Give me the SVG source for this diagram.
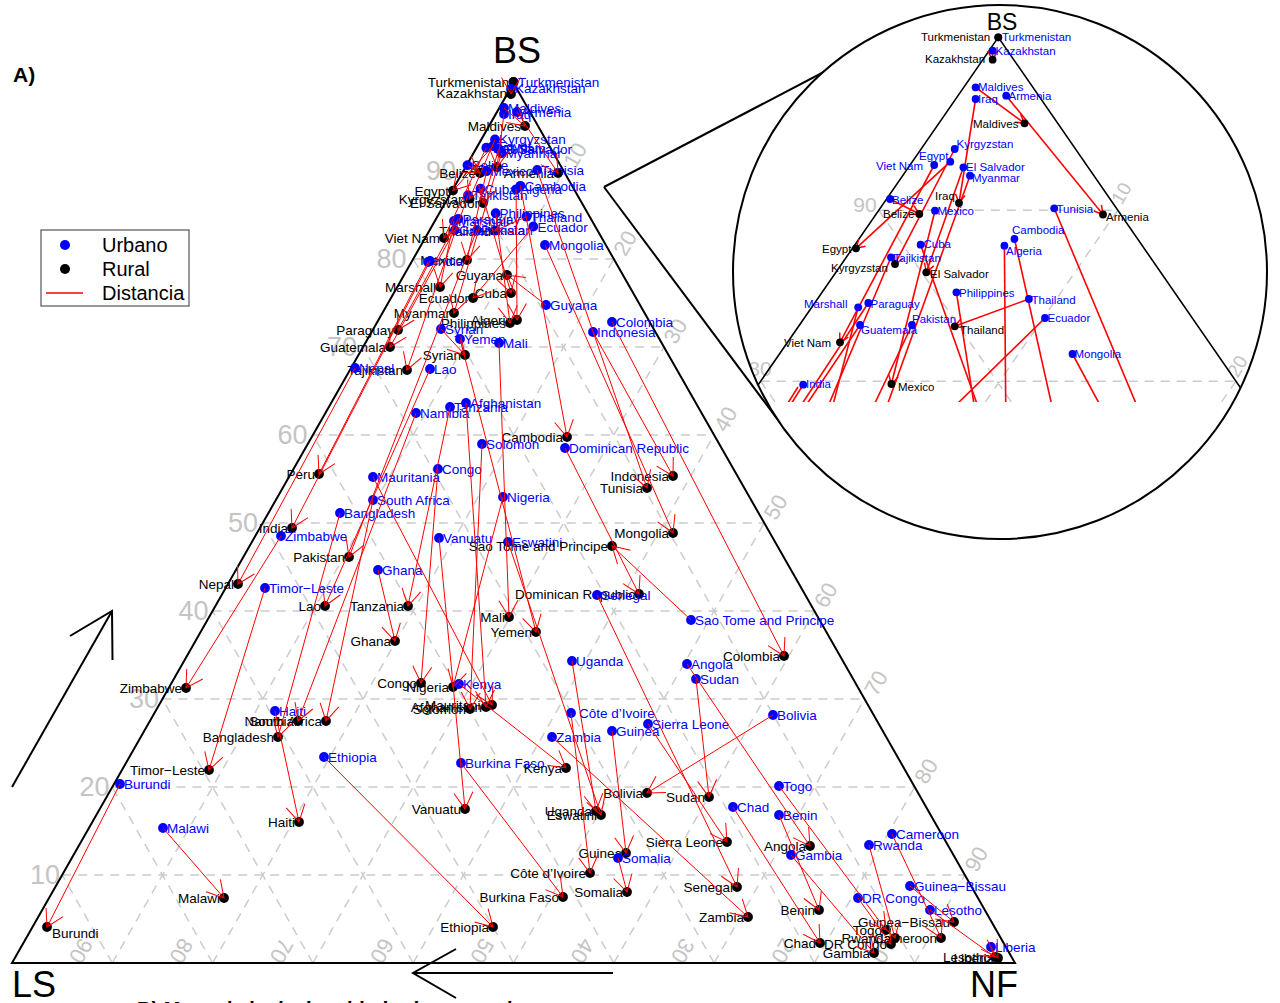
<svg xmlns="http://www.w3.org/2000/svg" width="1280" height="1003" viewBox="0 0 1280 1003">
<style>
.u{fill:#0000ff}.r{fill:#000}
.lu{font-family:"Liberation Sans",Arial,sans-serif;font-size:13.5px;fill:#0000ff}
.lr{font-family:"Liberation Sans",Arial,sans-serif;font-size:13.5px;fill:#000;text-anchor:end}
.iu{font-family:"Liberation Sans",Arial,sans-serif;font-size:11.5px;fill:#0000ff}
.ir{font-family:"Liberation Sans",Arial,sans-serif;font-size:11.5px;fill:#000}
.a{stroke:#ff0000;stroke-width:1;fill:none;marker-end:url(#ah)}
.ai{stroke:#ff0000;stroke-width:1.6;fill:none;marker-end:url(#ahs)}
.g{stroke:#cccccc;stroke-width:1.5;stroke-dasharray:9 7;fill:none}
.gl{font-family:"Liberation Sans",Arial,sans-serif;font-size:27px;fill:#c4c4c4;text-anchor:middle}
.gr{font-family:"Liberation Sans",Arial,sans-serif;font-size:22px;fill:#c4c4c4;text-anchor:middle}
.gi{font-family:"Liberation Sans",Arial,sans-serif;font-size:21px;fill:#c4c4c4;text-anchor:middle}
.edge{stroke:#000;stroke-width:2;fill:none}
.ax{font-family:"Liberation Sans",Arial,sans-serif;font-size:36px;fill:#000}
.lg{font-family:"Liberation Sans",Arial,sans-serif;font-size:20px;fill:#000}
#nodes circle{r:4.9px}
#inset-urban circle,#inset-rural circle{r:3.9px}
</style>
<defs>
<marker id="ah" markerUnits="userSpaceOnUse" markerWidth="40" markerHeight="40" refX="0" refY="0" orient="auto" overflow="visible"><path d="M-16.5,-9.5L0,0L-16.5,9.5" fill="none" stroke="#ff0000" stroke-width="1"/></marker>
<marker id="ahs" markerUnits="userSpaceOnUse" markerWidth="20" markerHeight="20" refX="0" refY="0" orient="auto" overflow="visible"><path d="M-8.5,-4.9L0,0L-8.5,4.9" fill="none" stroke="#ff0000" stroke-width="1.5"/></marker>
<clipPath id="cc"><circle cx="1000" cy="272" r="267"/></clipPath>
<clipPath id="cr"><rect x="700" y="0" width="580" height="402"/></clipPath>
</defs>
<rect width="1280" height="1003" fill="#fff"/>

<g id="grid">
<path class="g" d="M62.15,875H964.85M112.3,787H914.7M162.45,699H864.55M212.6,611H814.4M262.75,523H764.25M312.9,435H714.1M363.05,347H663.95M413.2,259H613.8M463.35,171H563.65"/>
<path class="g" d="M112.3,963L563.65,171M212.6,963L613.8,259M312.9,963L663.95,347M413.2,963L714.1,435M513.5,963L764.25,523M613.8,963L814.4,611M714.1,963L864.55,699M814.4,963L914.7,787M914.7,963L964.85,875"/>
<path class="g" d="M914.7,963L463.35,171M814.4,963L413.2,259M714.1,963L363.05,347M613.8,963L312.9,435M513.5,963L262.75,523M413.2,963L212.6,611M312.9,963L162.45,699M212.6,963L112.3,787M112.3,963L62.15,875"/>
<text class="gl" x="45" y="883.5">10</text><text class="gl" x="94.5" y="795.5">20</text><text class="gl" x="144" y="707.5">30</text><text class="gl" x="193.5" y="619.5">40</text><text class="gl" x="243" y="531.5">50</text><text class="gl" x="292.5" y="443.5">60</text><text class="gl" x="342" y="355.5">70</text><text class="gl" x="391.5" y="267.5">80</text><text class="gl" x="441" y="179.5">90</text>
<text class="gr" transform="translate(574.7,155) rotate(-60)" y="8">10</text><text class="gr" transform="translate(624.8,243) rotate(-60)" y="8">20</text><text class="gr" transform="translate(675,331) rotate(-60)" y="8">30</text><text class="gr" transform="translate(725.1,419) rotate(-60)" y="8">40</text><text class="gr" transform="translate(775.3,507) rotate(-60)" y="8">50</text><text class="gr" transform="translate(825.4,595) rotate(-60)" y="8">60</text><text class="gr" transform="translate(875.6,683) rotate(-60)" y="8">70</text><text class="gr" transform="translate(925.7,771) rotate(-60)" y="8">80</text><text class="gr" transform="translate(975.9,859) rotate(-60)" y="8">90</text>
<text class="gr" transform="translate(81.3,951) rotate(120)" y="8">90</text><text class="gr" transform="translate(181.6,951) rotate(120)" y="8">80</text><text class="gr" transform="translate(281.9,951) rotate(120)" y="8">70</text><text class="gr" transform="translate(382.2,951) rotate(120)" y="8">60</text><text class="gr" transform="translate(482.5,951) rotate(120)" y="8">50</text><text class="gr" transform="translate(582.8,951) rotate(120)" y="8">40</text><text class="gr" transform="translate(683.1,951) rotate(120)" y="8">30</text><text class="gr" transform="translate(783.4,951) rotate(120)" y="8">20</text><text class="gr" transform="translate(883.7,951) rotate(120)" y="8">10</text>
</g>

<g id="frame">
<polygon class="edge" points="12,963 1015,963 513.5,83"/>
<text class="ax" x="517" y="63" text-anchor="middle">BS</text>
<text class="ax" x="12" y="997">LS</text>
<text class="ax" x="970" y="997">NF</text>
<polyline class="edge" points="12,787 112,611"/><polyline class="edge" points="70,636 112,611 112.5,660"/>
<polyline class="edge" points="613,973 413,973"/><polyline class="edge" points="456,949 413,973 456,998"/>
<text x="13" y="82" font-family="Liberation Sans,Arial,sans-serif" font-size="21" font-weight="bold">A)</text>
<text x="137" y="1016" font-family="Liberation Sans,Arial,sans-serif" font-size="20" font-weight="bold">B) Mapa de la desigualdad urbano-rural</text>
</g>

<g id="legend">
<rect x="41" y="230" width="148" height="76" fill="#fff" stroke="#333" stroke-width="1"/>
<circle cx="65" cy="245" r="5" class="u"/><text class="lg" x="102" y="252">Urbano</text>
<circle cx="65" cy="269" r="5" class="r"/><text class="lg" x="102" y="276">Rural</text>
<line x1="46" y1="293" x2="83" y2="293" stroke="#ff0000" stroke-width="1.5"/><text class="lg" x="102" y="300">Distancia</text>
</g>

<g id="nodes">
<g id="turkmenistan"><circle class="u" cx="513.5" cy="82" r="4.9"/><text class="lu" x="518" y="86.5">Turkmenistan</text><circle class="r" cx="513.5" cy="82" r="4.9"/><text class="lr" x="509" y="86.5">Turkmenistan</text></g>
<g id="kazakhstan"><circle class="u" cx="511" cy="89" r="4.9"/><text class="lu" x="515" y="93">Kazakhstan</text><circle class="r" cx="511" cy="94" r="4.9"/><text class="lr" x="507" y="98">Kazakhstan</text></g>
<g id="maldives"><circle class="u" cx="504" cy="108" r="4.9"/><text class="lu" x="508" y="112.5">Maldives</text><circle class="r" cx="525" cy="126" r="4.9"/><text class="lr" x="521" y="131">Maldives</text></g>
<g id="iraq"><circle class="u" cx="504" cy="114" r="4.9"/><text class="lu" x="508" y="118.5">Iraq</text><circle class="r" cx="497" cy="167" r="4.9"/><text class="lr" x="493" y="172">Iraq</text></g>
<g id="armenia"><circle class="u" cx="517" cy="112" r="4.9"/><text class="lu" x="521" y="116.5">Armenia</text><circle class="r" cx="558" cy="173" r="4.9"/><text class="lr" x="554" y="178">Armenia</text></g>
<g id="kyrgyzstan"><circle class="u" cx="495" cy="139.5" r="4.9"/><text class="lu" x="499" y="144">Kyrgyzstan</text><circle class="r" cx="469.6" cy="198.7" r="4.9"/><text class="lr" x="465.5" y="203.5">Kyrgyzstan</text></g>
<g id="egypt"><circle class="u" cx="493" cy="146" r="4.9"/><text class="lu" x="497" y="151">Egypt</text><circle class="r" cx="453" cy="190.6" r="4.9"/><text class="lr" x="449" y="195.5">Egypt</text></g>
<g id="vietnam"><circle class="u" cx="486.3" cy="147.7" r="4.9"/><text class="lu" x="490.5" y="152.5">Viet Nam</text><circle class="r" cx="444" cy="238" r="4.9"/><text class="lr" x="440" y="243">Viet Nam</text></g>
<g id="elsalvador"><circle class="u" cx="498.7" cy="149" r="4.9"/><text class="lu" x="503" y="154">El Salvador</text><circle class="r" cx="483" cy="203" r="4.9"/><text class="lr" x="479" y="208">El Salvador</text></g>
<g id="myanmar"><circle class="u" cx="501.5" cy="153.2" r="4.9"/><text class="lu" x="505.5" y="158">Myanmar</text><circle class="r" cx="454" cy="313" r="4.9"/><text class="lr" x="450" y="318">Myanmar</text></g>
<g id="belize"><circle class="u" cx="467.5" cy="165.2" r="4.9"/><text class="lu" x="471.5" y="170">Belize</text><circle class="r" cx="480" cy="173" r="4.9"/><text class="lr" x="476" y="178">Belize</text></g>
<g id="mexico"><circle class="u" cx="486.6" cy="171.2" r="4.9"/><text class="lu" x="490.5" y="176">Mexico</text><circle class="r" cx="467" cy="260" r="4.9"/><text class="lr" x="463" y="265">Mexico</text></g>
<g id="tunisia"><circle class="u" cx="537.2" cy="170" r="4.9"/><text class="lu" x="541" y="175">Tunisia</text><circle class="r" cx="647" cy="488" r="4.9"/><text class="lr" x="643" y="493">Tunisia</text></g>
<g id="cambodia"><circle class="u" cx="520.4" cy="185.8" r="4.9"/><text class="lu" x="524.5" y="190.5">Cambodia</text><circle class="r" cx="567" cy="437" r="4.9"/><text class="lr" x="563" y="442">Cambodia</text></g>
<g id="algeria"><circle class="u" cx="516.1" cy="189.3" r="4.9"/><text class="lu" x="520" y="194">Algeria</text><circle class="r" cx="517" cy="320" r="4.9"/><text class="lr" x="513" y="325">Algeria</text></g>
<g id="cuba"><circle class="u" cx="480.5" cy="188.7" r="4.9"/><text class="lu" x="484.5" y="193.5">Cuba</text><circle class="r" cx="511" cy="293" r="4.9"/><text class="lr" x="507" y="298">Cuba</text></g>
<g id="tajikistan"><circle class="u" cx="468" cy="195.2" r="4.9"/><text class="lu" x="472" y="200">Tajikistan</text><circle class="r" cx="407" cy="370" r="4.9"/><text class="lr" x="403" y="375">Tajikistan</text></g>
<g id="philippines"><circle class="u" cx="495.7" cy="213.2" r="4.9"/><text class="lu" x="499.5" y="218">Philippines</text><circle class="r" cx="510" cy="323" r="4.9"/><text class="lr" x="506" y="328">Philippines</text></g>
<g id="thailand"><circle class="u" cx="526.5" cy="216.7" r="4.9"/><text class="lu" x="530.5" y="221.5">Thailand</text><circle class="r" cx="495" cy="230.7" r="4.9"/><text class="lr" x="491" y="235.5">Thailand</text></g>
<g id="marshall"><circle class="u" cx="454" cy="221" r="4.9"/><text class="lu" x="458" y="226">Marshall</text><circle class="r" cx="440" cy="287" r="4.9"/><text class="lr" x="436" y="292">Marshall</text></g>
<g id="paraguay"><circle class="u" cx="458.3" cy="218.8" r="4.9"/><text class="lu" x="462.5" y="223.5">Paraguay</text><circle class="r" cx="398" cy="330" r="4.9"/><text class="lr" x="394" y="335">Paraguay</text></g>
<g id="ecuador"><circle class="u" cx="533.3" cy="226.5" r="4.9"/><text class="lu" x="537.5" y="231.5">Ecuador</text><circle class="r" cx="473" cy="298" r="4.9"/><text class="lr" x="469" y="303">Ecuador</text></g>
<g id="guatemala"><circle class="u" cx="454.8" cy="230.1" r="4.9"/><text class="lu" x="459" y="235">Guatemala</text><circle class="r" cx="390" cy="347" r="4.9"/><text class="lr" x="386" y="352">Guatemala</text></g>
<g id="pakistan"><circle class="u" cx="476.9" cy="230.1" r="4.9"/><text class="lu" x="481" y="235">Pakistan</text><circle class="r" cx="349" cy="557" r="4.9"/><text class="lr" x="345" y="562">Pakistan</text></g>
<g id="mongolia"><circle class="u" cx="545" cy="245" r="4.9"/><text class="lu" x="549" y="250">Mongolia</text><circle class="r" cx="673" cy="533" r="4.9"/><text class="lr" x="669" y="538">Mongolia</text></g>
<g id="india"><circle class="u" cx="430" cy="261" r="4.9"/><text class="lu" x="434" y="266">India</text><circle class="r" cx="292" cy="528" r="4.9"/><text class="lr" x="288" y="533">India</text></g>
<g id="peru"><circle class="u" cx="428" cy="262" r="4.9"/><circle class="r" cx="319" cy="474" r="4.9"/><text class="lr" x="315" y="479">Peru</text></g>
<g id="guyana"><circle class="u" cx="546" cy="305" r="4.9"/><text class="lu" x="550" y="310">Guyana</text><circle class="r" cx="507" cy="275" r="4.9"/><text class="lr" x="503" y="280">Guyana</text></g>
<g id="colombia"><circle class="u" cx="612" cy="322" r="4.9"/><text class="lu" x="616" y="327">Colombia</text><circle class="r" cx="784" cy="656" r="4.9"/><text class="lr" x="780" y="661">Colombia</text></g>
<g id="indonesia"><circle class="u" cx="593" cy="332" r="4.9"/><text class="lu" x="597" y="337">Indonesia</text><circle class="r" cx="673" cy="476" r="4.9"/><text class="lr" x="669" y="481">Indonesia</text></g>
<g id="syrian"><circle class="u" cx="441" cy="329" r="4.9"/><text class="lu" x="445" y="334">Syrian</text><circle class="r" cx="465" cy="355" r="4.9"/><text class="lr" x="461" y="360">Syrian</text></g>
<g id="yemen"><circle class="u" cx="460" cy="339" r="4.9"/><text class="lu" x="464" y="344">Yemen</text><circle class="r" cx="536" cy="632" r="4.9"/><text class="lr" x="532" y="637">Yemen</text></g>
<g id="mali"><circle class="u" cx="499" cy="343" r="4.9"/><text class="lu" x="503" y="348">Mali</text><circle class="r" cx="509" cy="617" r="4.9"/><text class="lr" x="505" y="622">Mali</text></g>
<g id="nepal"><circle class="u" cx="355" cy="368" r="4.9"/><text class="lu" x="359" y="373">Nepal</text><circle class="r" cx="238" cy="584" r="4.9"/><text class="lr" x="234" y="589">Nepal</text></g>
<g id="lao"><circle class="u" cx="430" cy="369" r="4.9"/><text class="lu" x="434" y="374">Lao</text><circle class="r" cx="325" cy="606" r="4.9"/><text class="lr" x="321" y="611">Lao</text></g>
<g id="afghanistan"><circle class="u" cx="466" cy="403" r="4.9"/><text class="lu" x="470" y="408">Afghanistan</text><circle class="r" cx="486" cy="707" r="4.9"/><text class="lr" x="482" y="712">Afghanistan</text></g>
<g id="tanzania"><circle class="u" cx="450" cy="407" r="4.9"/><text class="lu" x="454" y="412">Tanzania</text><circle class="r" cx="408" cy="606" r="4.9"/><text class="lr" x="404" y="611">Tanzania</text></g>
<g id="namibia"><circle class="u" cx="416" cy="413" r="4.9"/><text class="lu" x="420" y="418">Namibia</text><circle class="r" cx="298" cy="721" r="4.9"/><text class="lr" x="294" y="726">Namibia</text></g>
<g id="solomon"><circle class="u" cx="482" cy="444" r="4.9"/><text class="lu" x="486" y="449">Solomon</text><circle class="r" cx="470" cy="709" r="4.9"/><text class="lr" x="466" y="714">Solomon</text></g>
<g id="congo"><circle class="u" cx="438" cy="469" r="4.9"/><text class="lu" x="442" y="474">Congo</text><circle class="r" cx="421" cy="683" r="4.9"/><text class="lr" x="417" y="688">Congo</text></g>
<g id="mauritania"><circle class="u" cx="373" cy="477" r="4.9"/><text class="lu" x="377" y="482">Mauritania</text><circle class="r" cx="492" cy="705" r="4.9"/><text class="lr" x="488" y="710">Mauritania</text></g>
<g id="southafrica"><circle class="u" cx="373" cy="500" r="4.9"/><text class="lu" x="377" y="505">South Africa</text><circle class="r" cx="326" cy="721" r="4.9"/><text class="lr" x="322" y="726">South Africa</text></g>
<g id="nigeria"><circle class="u" cx="503" cy="497" r="4.9"/><text class="lu" x="507" y="502">Nigeria</text><circle class="r" cx="453" cy="687" r="4.9"/><text class="lr" x="449" y="692">Nigeria</text></g>
<g id="bangladesh"><circle class="u" cx="340" cy="513" r="4.9"/><text class="lu" x="344" y="518">Bangladesh</text><circle class="r" cx="278" cy="737" r="4.9"/><text class="lr" x="274" y="742">Bangladesh</text></g>
<g id="zimbabwe"><circle class="u" cx="281" cy="536" r="4.9"/><text class="lu" x="285" y="541">Zimbabwe</text><circle class="r" cx="186" cy="688" r="4.9"/><text class="lr" x="182" y="693">Zimbabwe</text></g>
<g id="vanuatu"><circle class="u" cx="439" cy="538" r="4.9"/><text class="lu" x="443" y="543">Vanuatu</text><circle class="r" cx="465" cy="809" r="4.9"/><text class="lr" x="461" y="814">Vanuatu</text></g>
<g id="eswatini"><circle class="u" cx="508" cy="542" r="4.9"/><text class="lu" x="512" y="547">Eswatini</text><circle class="r" cx="601" cy="815" r="4.9"/><text class="lr" x="597" y="820">Eswatini</text></g>
<g id="ghana"><circle class="u" cx="378" cy="570" r="4.9"/><text class="lu" x="382" y="575">Ghana</text><circle class="r" cx="395" cy="641" r="4.9"/><text class="lr" x="391" y="646">Ghana</text></g>
<g id="timorleste"><circle class="u" cx="265" cy="588" r="4.9"/><text class="lu" x="269" y="593">Timor−Leste</text><circle class="r" cx="209" cy="770" r="4.9"/><text class="lr" x="205" y="775">Timor−Leste</text></g>
<g id="dominican"><circle class="u" cx="565" cy="448" r="4.9"/><text class="lu" x="569" y="453">Dominican Republic</text><circle class="r" cx="639" cy="594" r="4.9"/><text class="lr" x="635" y="599">Dominican Republic</text></g>
<g id="saotome"><circle class="u" cx="691" cy="620" r="4.9"/><text class="lu" x="695" y="625">Sao Tome and Principe</text><circle class="r" cx="612" cy="546" r="4.9"/><text class="lr" x="608" y="551">Sao Tome and Principe</text></g>
<g id="senegal"><circle class="u" cx="597" cy="595" r="4.9"/><text class="lu" x="601" y="600">Senegal</text><circle class="r" cx="737" cy="887" r="4.9"/><text class="lr" x="733" y="892">Senegal</text></g>
<g id="uganda"><circle class="u" cx="572" cy="661" r="4.9"/><text class="lu" x="576" y="666">Uganda</text><circle class="r" cx="596" cy="811" r="4.9"/><text class="lr" x="592" y="816">Uganda</text></g>
<g id="angola"><circle class="u" cx="687" cy="664" r="4.9"/><text class="lu" x="691" y="669">Angola</text><circle class="r" cx="810" cy="846" r="4.9"/><text class="lr" x="806" y="851">Angola</text></g>
<g id="sudan"><circle class="u" cx="696" cy="679" r="4.9"/><text class="lu" x="700" y="684">Sudan</text><circle class="r" cx="709" cy="797" r="4.9"/><text class="lr" x="705" y="802">Sudan</text></g>
<g id="kenya"><circle class="u" cx="459" cy="684" r="4.9"/><text class="lu" x="463" y="689">Kenya</text><circle class="r" cx="566" cy="768" r="4.9"/><text class="lr" x="562" y="773">Kenya</text></g>
<g id="haiti"><circle class="u" cx="275" cy="711" r="4.9"/><text class="lu" x="279" y="716">Haiti</text><circle class="r" cx="299" cy="822" r="4.9"/><text class="lr" x="295" y="827">Haiti</text></g>
<g id="cotedivoire"><circle class="u" cx="571" cy="713" r="4.9"/><text class="lu" x="579" y="718">Côte d’Ivoire</text><circle class="r" cx="590" cy="873" r="4.9"/><text class="lr" x="586" y="878">Côte d’Ivoire</text></g>
<g id="guinea"><circle class="u" cx="612" cy="731" r="4.9"/><text class="lu" x="616" y="736">Guinea</text><circle class="r" cx="626" cy="853" r="4.9"/><text class="lr" x="622" y="858">Guinea</text></g>
<g id="sierraleone"><circle class="u" cx="648" cy="724" r="4.9"/><text class="lu" x="652" y="729">Sierra Leone</text><circle class="r" cx="727" cy="842" r="4.9"/><text class="lr" x="723" y="847">Sierra Leone</text></g>
<g id="bolivia"><circle class="u" cx="773" cy="715" r="4.9"/><text class="lu" x="777" y="720">Bolivia</text><circle class="r" cx="647" cy="793" r="4.9"/><text class="lr" x="643" y="798">Bolivia</text></g>
<g id="zambia"><circle class="u" cx="552" cy="737" r="4.9"/><text class="lu" x="556" y="742">Zambia</text><circle class="r" cx="748" cy="917" r="4.9"/><text class="lr" x="744" y="922">Zambia</text></g>
<g id="ethiopia"><circle class="u" cx="324" cy="757" r="4.9"/><text class="lu" x="328" y="762">Ethiopia</text><circle class="r" cx="493" cy="927" r="4.9"/><text class="lr" x="489" y="932">Ethiopia</text></g>
<g id="burkinafaso"><circle class="u" cx="461" cy="763" r="4.9"/><text class="lu" x="465" y="768">Burkina Faso</text><circle class="r" cx="563" cy="897" r="4.9"/><text class="lr" x="559" y="902">Burkina Faso</text></g>
<g id="burundi"><circle class="u" cx="120" cy="784" r="4.9"/><text class="lu" x="124" y="789">Burundi</text><circle class="r" cx="47" cy="927" r="4.9"/><text class="lr" x="52" y="937.5" style="text-anchor:start">Burundi</text></g>
<g id="malawi"><circle class="u" cx="163" cy="828" r="4.9"/><text class="lu" x="167" y="833">Malawi</text><circle class="r" cx="224" cy="898" r="4.9"/><text class="lr" x="220" y="903">Malawi</text></g>
<g id="togo"><circle class="u" cx="779" cy="786" r="4.9"/><text class="lu" x="783" y="791">Togo</text><circle class="r" cx="886" cy="930" r="4.9"/><text class="lr" x="882" y="935">Togo</text></g>
<g id="chad"><circle class="u" cx="733" cy="807" r="4.9"/><text class="lu" x="737" y="812">Chad</text><circle class="r" cx="820" cy="943" r="4.9"/><text class="lr" x="816" y="948">Chad</text></g>
<g id="benin"><circle class="u" cx="779" cy="815" r="4.9"/><text class="lu" x="783" y="820">Benin</text><circle class="r" cx="819" cy="910" r="4.9"/><text class="lr" x="815" y="915">Benin</text></g>
<g id="gambia"><circle class="u" cx="791" cy="855" r="4.9"/><text class="lu" x="795" y="860">Gambia</text><circle class="r" cx="874" cy="953" r="4.9"/><text class="lr" x="870" y="958">Gambia</text></g>
<g id="somalia"><circle class="u" cx="618" cy="858" r="4.9"/><text class="lu" x="622" y="863">Somalia</text><circle class="r" cx="627" cy="892" r="4.9"/><text class="lr" x="623" y="897">Somalia</text></g>
<g id="cameroon"><circle class="u" cx="892" cy="834" r="4.9"/><text class="lu" x="896" y="839">Cameroon</text><circle class="r" cx="941" cy="938" r="4.9"/><text class="lr" x="937" y="943">Cameroon</text></g>
<g id="rwanda"><circle class="u" cx="869" cy="845" r="4.9"/><text class="lu" x="873" y="850">Rwanda</text><circle class="r" cx="895" cy="938" r="4.9"/><text class="lr" x="891" y="943">Rwanda</text></g>
<g id="drcongo"><circle class="u" cx="858" cy="898" r="4.9"/><text class="lu" x="862" y="903">DR Congo</text><circle class="r" cx="891" cy="944" r="4.9"/><text class="lr" x="887" y="949">DR Congo</text></g>
<g id="guineabissau"><circle class="u" cx="910" cy="886" r="4.9"/><text class="lu" x="914" y="891">Guinea−Bissau</text><circle class="r" cx="954" cy="922" r="4.9"/><text class="lr" x="950" y="927">Guinea−Bissau</text></g>
<g id="lesotho"><circle class="u" cx="930" cy="910" r="4.9"/><text class="lu" x="934" y="915">Lesotho</text><circle class="r" cx="995" cy="957" r="4.9"/><text class="lr" x="991" y="962">Lesotho</text></g>
<g id="liberia"><circle class="u" cx="991" cy="947" r="4.9"/><text class="lu" x="995" y="952">Liberia</text><circle class="r" cx="998" cy="958" r="4.9"/><text class="lr" x="994" y="963">Liberia</text></g>
</g>

<g id="connectors">
<line class="a" x1="511" y1="89" x2="511" y2="94"/>
<line class="a" x1="504" y1="108" x2="525" y2="126"/>
<line class="a" x1="504" y1="114" x2="497" y2="167"/>
<line class="a" x1="517" y1="112" x2="558" y2="173"/>
<line class="a" x1="495" y1="139.5" x2="469.6" y2="198.7"/>
<line class="a" x1="493" y1="146" x2="453" y2="190.6"/>
<line class="a" x1="486.3" y1="147.7" x2="444" y2="238"/>
<line class="a" x1="498.7" y1="149" x2="483" y2="203"/>
<line class="a" x1="501.5" y1="153.2" x2="454" y2="313"/>
<line class="a" x1="467.5" y1="165.2" x2="480" y2="173"/>
<line class="a" x1="486.6" y1="171.2" x2="467" y2="260"/>
<line class="a" x1="537.2" y1="170" x2="647" y2="488"/>
<line class="a" x1="520.4" y1="185.8" x2="567" y2="437"/>
<line class="a" x1="516.1" y1="189.3" x2="517" y2="320"/>
<line class="a" x1="480.5" y1="188.7" x2="511" y2="293"/>
<line class="a" x1="468" y1="195.2" x2="407" y2="370"/>
<line class="a" x1="495.7" y1="213.2" x2="510" y2="323"/>
<line class="a" x1="526.5" y1="216.7" x2="495" y2="230.7"/>
<line class="a" x1="454" y1="221" x2="440" y2="287"/>
<line class="a" x1="458.3" y1="218.8" x2="398" y2="330"/>
<line class="a" x1="533.3" y1="226.5" x2="473" y2="298"/>
<line class="a" x1="454.8" y1="230.1" x2="390" y2="347"/>
<line class="a" x1="476.9" y1="230.1" x2="349" y2="557"/>
<line class="a" x1="545" y1="245" x2="673" y2="533"/>
<line class="a" x1="430" y1="261" x2="292" y2="528"/>
<line class="a" x1="428" y1="262" x2="319" y2="474"/>
<line class="a" x1="546" y1="305" x2="507" y2="275"/>
<line class="a" x1="612" y1="322" x2="784" y2="656"/>
<line class="a" x1="593" y1="332" x2="673" y2="476"/>
<line class="a" x1="441" y1="329" x2="465" y2="355"/>
<line class="a" x1="460" y1="339" x2="536" y2="632"/>
<line class="a" x1="499" y1="343" x2="509" y2="617"/>
<line class="a" x1="355" y1="368" x2="238" y2="584"/>
<line class="a" x1="430" y1="369" x2="325" y2="606"/>
<line class="a" x1="466" y1="403" x2="486" y2="707"/>
<line class="a" x1="450" y1="407" x2="408" y2="606"/>
<line class="a" x1="416" y1="413" x2="298" y2="721"/>
<line class="a" x1="482" y1="444" x2="470" y2="709"/>
<line class="a" x1="438" y1="469" x2="421" y2="683"/>
<line class="a" x1="373" y1="477" x2="492" y2="705"/>
<line class="a" x1="373" y1="500" x2="326" y2="721"/>
<line class="a" x1="503" y1="497" x2="453" y2="687"/>
<line class="a" x1="340" y1="513" x2="278" y2="737"/>
<line class="a" x1="281" y1="536" x2="186" y2="688"/>
<line class="a" x1="439" y1="538" x2="465" y2="809"/>
<line class="a" x1="508" y1="542" x2="601" y2="815"/>
<line class="a" x1="378" y1="570" x2="395" y2="641"/>
<line class="a" x1="265" y1="588" x2="209" y2="770"/>
<line class="a" x1="565" y1="448" x2="639" y2="594"/>
<line class="a" x1="691" y1="620" x2="612" y2="546"/>
<line class="a" x1="597" y1="595" x2="737" y2="887"/>
<line class="a" x1="572" y1="661" x2="596" y2="811"/>
<line class="a" x1="687" y1="664" x2="810" y2="846"/>
<line class="a" x1="696" y1="679" x2="709" y2="797"/>
<line class="a" x1="459" y1="684" x2="566" y2="768"/>
<line class="a" x1="275" y1="711" x2="299" y2="822"/>
<line class="a" x1="571" y1="713" x2="590" y2="873"/>
<line class="a" x1="612" y1="731" x2="626" y2="853"/>
<line class="a" x1="648" y1="724" x2="727" y2="842"/>
<line class="a" x1="773" y1="715" x2="647" y2="793"/>
<line class="a" x1="552" y1="737" x2="748" y2="917"/>
<line class="a" x1="324" y1="757" x2="493" y2="927"/>
<line class="a" x1="461" y1="763" x2="563" y2="897"/>
<line class="a" x1="120" y1="784" x2="47" y2="927"/>
<line class="a" x1="163" y1="828" x2="224" y2="898"/>
<line class="a" x1="779" y1="786" x2="886" y2="930"/>
<line class="a" x1="733" y1="807" x2="820" y2="943"/>
<line class="a" x1="779" y1="815" x2="819" y2="910"/>
<line class="a" x1="791" y1="855" x2="874" y2="953"/>
<line class="a" x1="618" y1="858" x2="627" y2="892"/>
<line class="a" x1="892" y1="834" x2="941" y2="938"/>
<line class="a" x1="869" y1="845" x2="895" y2="938"/>
<line class="a" x1="858" y1="898" x2="891" y2="944"/>
<line class="a" x1="910" y1="886" x2="954" y2="922"/>
<line class="a" x1="930" y1="910" x2="995" y2="957"/>
<line class="a" x1="991" y1="947" x2="998" y2="958"/>
</g>

<g id="callout">
<line class="edge" x1="604" y1="187" x2="860" y2="53"/>
<line class="edge" x1="604" y1="187" x2="787" y2="432"/>
</g>

<g id="inset">
<circle cx="1000" cy="272" r="267" fill="#fff"/>
<g clip-path="url(#cc)"><g clip-path="url(#cr)">
<path class="g" d="M878.8,210.2H1117.8M760.7,381.2H1235.9M1117.8,210.2L960.9,437.3M878.8,210.2L1035.7,437.3M1235.9,381.2L1197.1,437.3M760.7,381.2L799.5,437.3"/>
<text class="gi" x="865" y="212">90</text>
<text class="gi" x="760" y="376">80</text>
<text class="gi" style="font-size:19px" transform="translate(1121,193) rotate(-60)" y="7">10</text>
<text class="gi" style="font-size:19px" transform="translate(1237,366) rotate(-60)" y="7">20</text>
<path stroke="#000" stroke-width="1.6" fill="none" d="M721.9,437.3L998.3,37.3L1274.7,437.3"/>
<g id="inset-connectors">
<line class="ai" x1="992.6" y1="50.7" x2="992.6" y2="59.7"/>
<line class="ai" x1="975.6" y1="87.3" x2="1024.5" y2="123.3"/>
<line class="ai" x1="975.6" y1="99" x2="959" y2="203"/>
<line class="ai" x1="1006.2" y1="95.7" x2="1103" y2="214.5"/>
<line class="ai" x1="954.7" y1="149" x2="895" y2="264"/>
<line class="ai" x1="950.3" y1="161.7" x2="856" y2="248.3"/>
<line class="ai" x1="934.2" y1="165" x2="840" y2="342.3"/>
<line class="ai" x1="963.4" y1="167.3" x2="926.3" y2="272.3"/>
<line class="ai" x1="970" y1="175.7" x2="858" y2="486"/>
<line class="ai" x1="890" y1="199" x2="919.3" y2="214"/>
<line class="ai" x1="935" y1="210.7" x2="891.4" y2="384"/>
<line class="ai" x1="1054.2" y1="208.3" x2="1313" y2="826"/>
<line class="ai" x1="1014.5" y1="239" x2="1124" y2="727"/>
<line class="ai" x1="1004.4" y1="245.7" x2="1006.5" y2="499.7"/>
<line class="ai" x1="920.6" y1="244.7" x2="992.4" y2="447.3"/>
<line class="ai" x1="891" y1="257.3" x2="747.4" y2="596.9"/>
<line class="ai" x1="956.4" y1="292.3" x2="990" y2="505.6"/>
<line class="ai" x1="1028.9" y1="299" x2="954.7" y2="326.3"/>
<line class="ai" x1="858.2" y1="307.3" x2="825.1" y2="435.6"/>
<line class="ai" x1="868.3" y1="303" x2="726.2" y2="519.2"/>
<line class="ai" x1="1045" y1="318" x2="902.9" y2="457"/>
<line class="ai" x1="860" y1="325" x2="707.3" y2="552.2"/>
<line class="ai" x1="912" y1="325" x2="610.7" y2="960.2"/>
<line class="ai" x1="1072.5" y1="354" x2="1374" y2="913.6"/>
<line class="ai" x1="803.2" y1="384.7" x2="476.4" y2="903.9"/>
<line class="ai" x1="798" y1="387" x2="540" y2="799"/>
</g>
<g id="inset-urban" class="u">
<circle cx="998.3" cy="37.3" r="3.9"/><circle cx="992.6" cy="50.7" r="3.9"/><circle cx="975.6" cy="87.3" r="3.9"/><circle cx="975.6" cy="99" r="3.9"/><circle cx="1006.2" cy="95.7" r="3.9"/><circle cx="954.7" cy="149" r="3.9"/><circle cx="950.3" cy="161.7" r="3.9"/><circle cx="934.2" cy="165" r="3.9"/><circle cx="963.4" cy="167.3" r="3.9"/><circle cx="970" cy="175.7" r="3.9"/><circle cx="890" cy="199" r="3.9"/><circle cx="935" cy="210.7" r="3.9"/><circle cx="1054.2" cy="208.3" r="3.9"/><circle cx="1014.5" cy="239" r="3.9"/><circle cx="1004.4" cy="245.7" r="3.9"/><circle cx="920.6" cy="244.7" r="3.9"/><circle cx="891" cy="257.3" r="3.9"/><circle cx="956.4" cy="292.3" r="3.9"/><circle cx="1028.9" cy="299" r="3.9"/><circle cx="858.2" cy="307.3" r="3.9"/><circle cx="868.3" cy="303" r="3.9"/><circle cx="1045" cy="318" r="3.9"/><circle cx="860" cy="325" r="3.9"/><circle cx="912" cy="325" r="3.9"/><circle cx="1072.5" cy="354" r="3.9"/><circle cx="803.2" cy="384.7" r="3.9"/>
</g>
<g id="inset-rural" class="r">
<circle cx="998.3" cy="37.3" r="3.9"/><circle cx="992.6" cy="59.7" r="3.9"/><circle cx="1024.5" cy="123.3" r="3.9"/><circle cx="959" cy="203" r="3.9"/><circle cx="919.3" cy="214" r="3.9"/><circle cx="1103" cy="214.5" r="3.9"/><circle cx="856" cy="248.3" r="3.9"/><circle cx="895" cy="264" r="3.9"/><circle cx="926.3" cy="272.3" r="3.9"/><circle cx="954.7" cy="326.3" r="3.9"/><circle cx="840" cy="342.3" r="3.9"/><circle cx="891.4" cy="384" r="3.9"/>
</g>
<g id="inset-labels">
<text class="iu" x="1002" y="41">Turkmenistan</text><text class="iu" x="995.5" y="54.5">Kazakhstan</text><text class="iu" x="978" y="91">Maldives</text><text class="iu" x="978" y="103">Iraq</text><text class="iu" x="1008.5" y="100">Armenia</text><text class="iu" x="956.5" y="148">Kyrgyzstan</text><text class="iu" x="919" y="160">Egypt</text><text class="iu" x="876" y="170">Viet Nam</text><text class="iu" x="966" y="171">El Salvador</text><text class="iu" x="972" y="182">Myanmar</text><text class="iu" x="892" y="204">Belize</text><text class="iu" x="937.5" y="215">Mexico</text><text class="iu" x="1056.5" y="213">Tunisia</text><text class="iu" x="1012" y="234">Cambodia</text><text class="iu" x="1006" y="254.5">Algeria</text><text class="iu" x="923.5" y="248">Cuba</text><text class="iu" x="893.5" y="261.5">Tajikistan</text><text class="iu" x="959" y="296.5">Philippines</text><text class="iu" x="1031.5" y="303.5">Thailand</text><text class="iu" x="804" y="307.5">Marshall</text><text class="iu" x="870.5" y="307.5">Paraguay</text><text class="iu" x="1047.5" y="322">Ecuador</text><text class="iu" x="912" y="323">Pakistan</text><text class="iu" x="861" y="333.5">Guatemala</text><text class="iu" x="1074.5" y="358">Mongolia</text><text class="iu" x="806" y="388">India</text>
<text class="ir" x="921" y="41">Turkmenistan</text><text class="ir" x="925" y="63">Kazakhstan</text><text class="ir" x="973" y="128">Maldives</text><text class="ir" x="935" y="200">Iraq</text><text class="ir" x="883" y="218">Belize</text><text class="ir" x="1106" y="220.5">Armenia</text><text class="ir" x="822" y="252.5">Egypt</text><text class="ir" x="831" y="271.5">Kyrgyzstan</text><text class="ir" x="930" y="277.5">El Salvador</text><text class="ir" x="960" y="333.5">Thailand</text><text class="ir" x="784" y="346.5">Viet Nam</text><text class="ir" x="898" y="390.5">Mexico</text>
</g>
</g></g>
<circle cx="1000" cy="272" r="267" fill="none" stroke="#000" stroke-width="2"/>
<text x="1002" y="30" text-anchor="middle" font-family="Liberation Sans,Arial,sans-serif" font-size="23">BS</text>
</g>
</svg>
